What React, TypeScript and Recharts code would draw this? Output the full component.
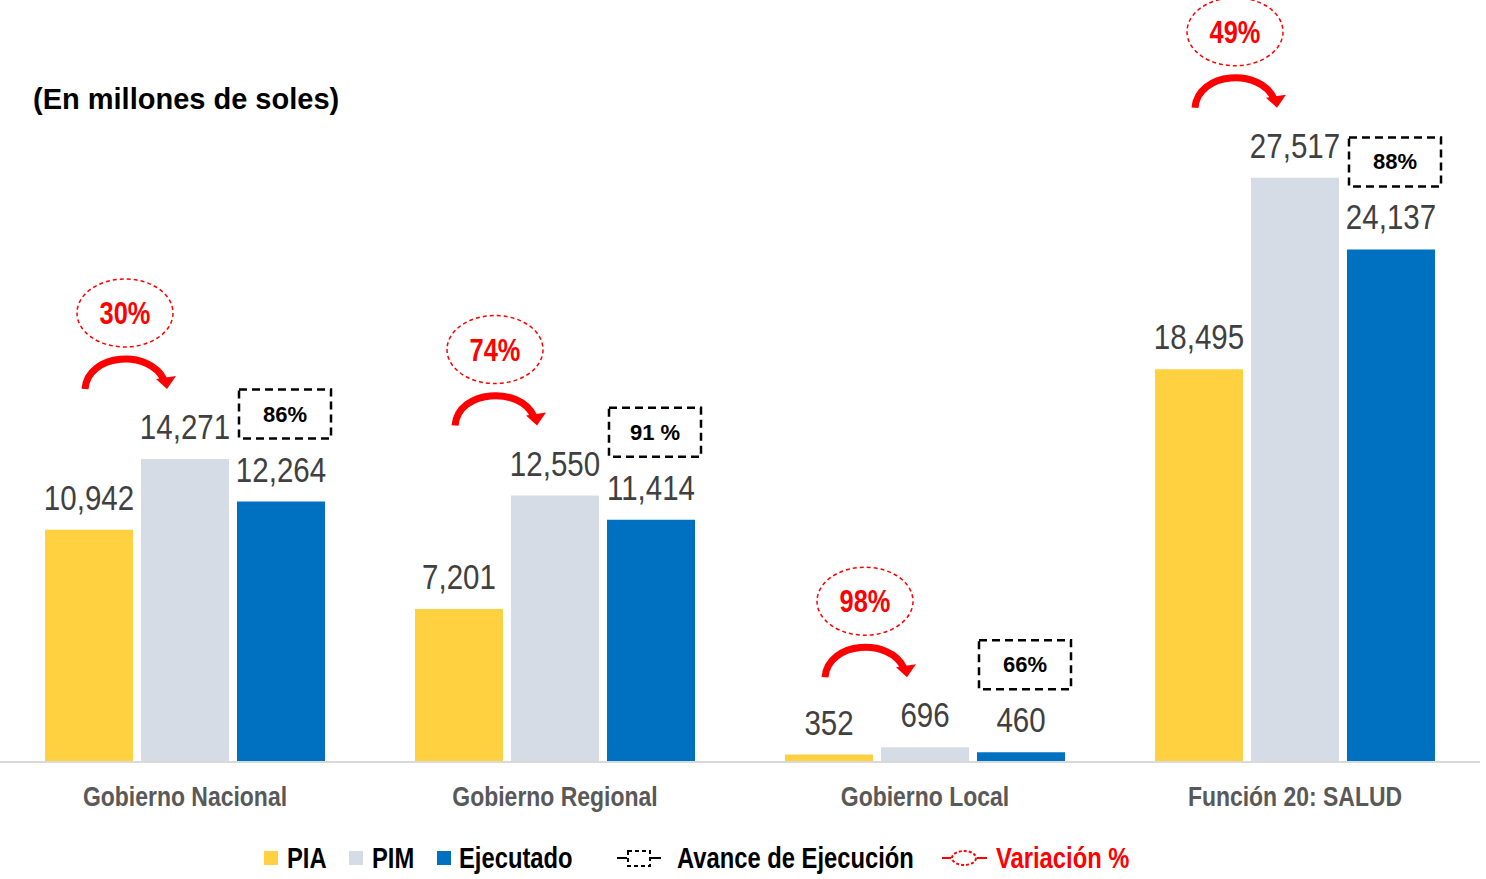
import {BarChart, Bar, XAxis, YAxis, LabelList, Legend} from 'recharts';

const categories = ['Gobierno Nacional', 'Gobierno Regional', 'Gobierno Local', 'Función 20: SALUD'];
const pia = [10942, 7201, 352, 18495];
const pim = [14271, 12550, 696, 27517];
const ejecutado = [12264, 11414, 460, 24137];
const avance = ['86%', '91 %', '66%', '88%'];
const variacion = ['30%', '74%', '98%', '49%'];

const data = categories.map((name, i) => ({
    name,
    pia: pia[i],
    pim: pim[i],
    ejecutado: ejecutado[i],
    avance: avance[i],
    variacion: variacion[i],
}));

const SANS = "'Liberation Sans', Arial, sans-serif";
const RED = '#FF0000';
const BAR_GAP = 8;

const colors = {pia: '#FFD03F', pim: '#D6DCE5', ejecutado: '#0070C0'};

// no narrow font installed, so squeeze Liberation Sans horizontally
function NText(props: any) {
    const {x, y, children, ...rest} = props;
    return (
        <text transform={`translate(${x},${y}) scale(0.82,1)`} fontFamily={SANS} {...rest}>
            {children}
        </text>
    );
}

function ValueLabel(props: any) {
    const {x, y, width, value} = props;
    return (
        <NText x={x + width / 2} y={y - 20} textAnchor="middle" fontSize={36} fill="#404040">
            {Number(value).toLocaleString('en-US')}
        </NText>
    );
}

// dashed box with avance de ejecución, above the Ejecutado bar
function AvanceBox(props: any) {
    const {x, y, width, value} = props;
    const cx = x + width / 2 + 4;
    const cy = y - 88;
    return (
        <g>
            <rect x={cx - 46} y={cy - 24} width={92} height={49} fill="#fff" stroke="#000"
                  strokeWidth={2.5} strokeDasharray="8 5"/>
            <text x={cx} y={cy + 8} textAnchor="middle" fontFamily={SANS} fontWeight="bold" fontSize={22} fill="#000">
                {value}
            </text>
        </g>
    );
}

// red ellipse + curved arrow going from PIA to PIM
function VariacionMark(props: any) {
    const {x, y, width, value} = props;
    const b = x + width / 2;
    const a = x - BAR_GAP - width / 2;
    const t = y;
    const mid = (a + b) / 2 - 12;
    const ey = t - 146;
    return (
        <g>
            <ellipse cx={mid} cy={ey} rx={48} ry={34} fill="#fff" stroke={RED} strokeWidth={1.5} strokeDasharray="4 3"/>
            <NText x={mid} y={ey + 11} textAnchor="middle" fontWeight="bold" fontSize={31} fill={RED}>
                {value}
            </NText>
            <path d={`M ${a - 4} ${t - 70} C ${a - 1} ${t - 106}, ${b - 35} ${t - 110}, ${b - 21} ${t - 79}`}
                  fill="none" stroke={RED} strokeWidth={7}/>
            <polygon points={`${b - 29},${t - 80} ${b - 9},${t - 83} ${b - 18},${t - 70}`} fill={RED}/>
        </g>
    );
}

function CategoryTick(props: any) {
    const {x, y, payload} = props;
    return (
        <NText x={x} y={y + 36} textAnchor="middle" fontWeight="bold" fontSize={28} fill="#595959">
            {payload.value}
        </NText>
    );
}

function LegendBox() {
    const font = {fontWeight: 'bold' as const, fontSize: 29};
    return (
        <svg width={1486} height={40}>
            <rect x={264} y={13} width={14} height={14} fill={colors.pia}/>
            <NText x={287} y={30} {...font} fill="#000">PIA</NText>
            <rect x={349} y={13} width={14} height={14} fill={colors.pim}/>
            <NText x={372} y={30} {...font} fill="#000">PIM</NText>
            <rect x={437} y={13} width={14} height={14} fill={colors.ejecutado}/>
            <NText x={459} y={30} {...font} fill="#000">Ejecutado</NText>
            <line x1={617} y1={20} x2={627} y2={20} stroke="#000" strokeWidth={2}/>
            <rect x={628} y={13} width={22} height={15} fill="none" stroke="#000" strokeWidth={2} strokeDasharray="4 3"/>
            <line x1={651} y1={20} x2={661} y2={20} stroke="#000" strokeWidth={2}/>
            <NText x={677} y={30} {...font} fill="#000">Avance de Ejecución</NText>
            <line x1={942} y1={20} x2={951} y2={20} stroke={RED} strokeWidth={2}/>
            <ellipse cx={964} cy={20} rx={12} ry={7} fill="#fff" stroke={RED} strokeWidth={2} strokeDasharray="3 2"/>
            <line x1={977} y1={20} x2={987} y2={20} stroke={RED} strokeWidth={2}/>
            <NText x={996} y={30} {...font} fill={RED}>Variación %</NText>
        </svg>
    );
}

export default function App() {
    return (
        <div style={{position: 'absolute', left: 0, top: 0, width: 1486, height: 879, background: '#fff'}}>
            <div style={{position: 'absolute', left: 33, top: 83, fontFamily: SANS, fontWeight: 'bold', fontSize: 29, lineHeight: '32px', color: '#000'}}>
                (En millones de soles)
            </div>
            <BarChart width={1486} height={879} data={data} barGap={BAR_GAP} barSize={88}
                      margin={{top: 125, right: 6, left: 0, bottom: 57}}>
                <XAxis dataKey="name" height={60} interval={0} tickLine={false}
                       axisLine={{stroke: '#D9D9D9', strokeWidth: 2}} tick={<CategoryTick/>}/>
                <YAxis hide domain={[0, 30000]}/>
                <Legend verticalAlign="middle" content={<LegendBox/>}
                        wrapperStyle={{top: 838, left: 0, width: 1486, height: 40}}/>
                <Bar dataKey="pia" name="PIA" fill={colors.pia} isAnimationActive={false}>
                    <LabelList dataKey="pia" content={<ValueLabel/>}/>
                </Bar>
                <Bar dataKey="pim" name="PIM" fill={colors.pim} isAnimationActive={false}>
                    <LabelList dataKey="pim" content={<ValueLabel/>}/>
                    <LabelList dataKey="variacion" content={<VariacionMark/>}/>
                </Bar>
                <Bar dataKey="ejecutado" name="Ejecutado" fill={colors.ejecutado} isAnimationActive={false}>
                    <LabelList dataKey="ejecutado" content={<ValueLabel/>}/>
                    <LabelList dataKey="avance" content={<AvanceBox/>}/>
                </Bar>
            </BarChart>
        </div>
    );
}
